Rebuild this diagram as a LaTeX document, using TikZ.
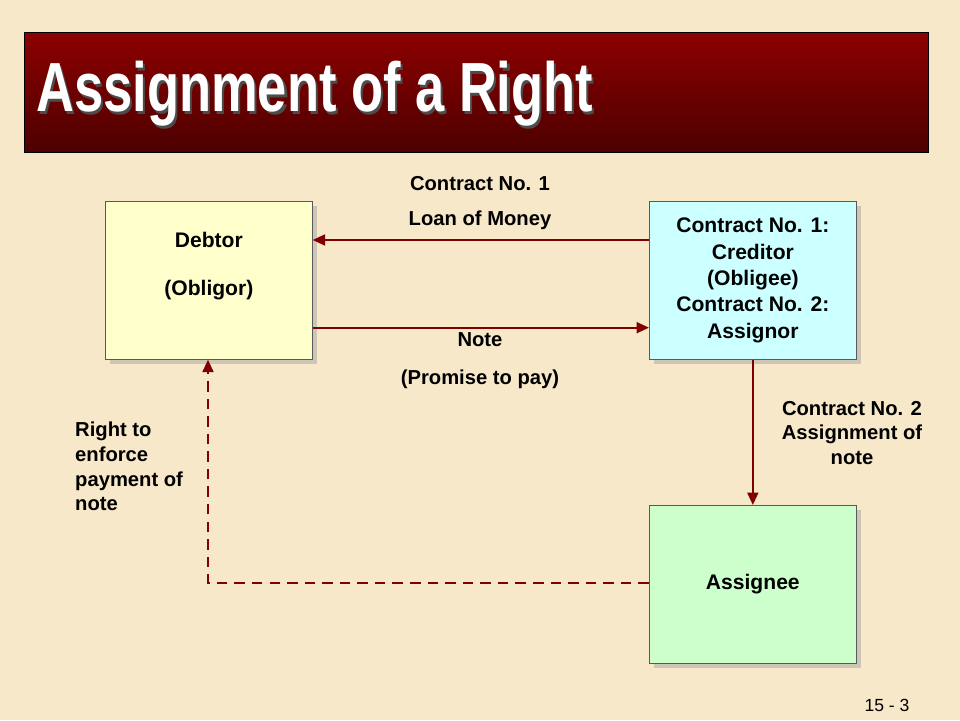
\documentclass[tikz,border=0pt]{standalone}
\usepackage{fontspec}
\setmainfont{Liberation Sans}
\usetikzlibrary{arrows.meta, positioning, shadows}
\definecolor{paper}{RGB}{246,232,200}
\definecolor{banner}{RGB}{128,0,0}
\definecolor{wine}{RGB}{128,0,0}
\definecolor{debtorfill}{RGB}{255,255,204}
\definecolor{credfill}{RGB}{204,255,255}
\definecolor{assfill}{RGB}{204,255,204}

\begin{document}
\begin{tikzpicture}[x=0.02cm, y=-0.02cm,
box/.style = {draw=gray!70!black, minimum width=4.14cm, minimum height=3.16cm,
              align=center, anchor=north west,
              drop shadow={shadow xshift=1mm, shadow yshift=-1mm, fill=gray!70}},
lbl/.style = {font=\fontsize{11.5}{14}\selectfont\bfseries, align=center},
link/.style = {draw=wine, very thick, -{Triangle[length=2.5mm, width=2.2mm]}},
     font = \fontsize{12}{15}\selectfont\bfseries
                        ]
\fill[paper] (0,0) rectangle (960,720);
\useasboundingbox (0,0) rectangle (960,720);
% title banner
\shade[top color=banner!90!red, bottom color=banner!60!black, draw=black]
    (24,32) rectangle (928,152);
\node (title) [anchor=west, text=white, xscale=0.83, yscale=1.1,
               font=\fontsize{36}{40}\selectfont\bfseries]
    at (31,95) {\tikz[baseline]{\node[inner sep=0pt, anchor=base, text=black!70] at (1.5pt,-1.5pt) {Assignment of a Right};
                \node[inner sep=0pt, anchor=base] at (0,0) {Assignment of a Right};}};
% boxes
\node (debtor) [box, fill=debtorfill] at (105,201) {Debtor\\[12pt](Obligor)\\[4pt]};
\node (creditor) [box, fill=credfill] at (649,201)
    {Contract No. 1:\\Creditor\\(Obligee)\\Contract No. 2:\\Assignor};
\node (assignee) [box, fill=assfill] at (649,505) {Assignee};
% connectors
\draw[link] ([yshift=-0.78cm] creditor.north west) -- ([yshift=-0.78cm] debtor.north east);
\draw[link] ([yshift=0.64cm] debtor.south east) -- ([yshift=0.64cm] creditor.south west);
\draw[link] (creditor.south) -- (assignee.north);
\coordinate (bend) at (208,583);
\draw[link, dash pattern=on 6pt off 4pt] (assignee.west |- bend) -- (bend) -- (bend |- debtor.south);
% labels
\node (c1) [lbl] at (480,184) {Contract No. 1};
\node (loan) [lbl] at (480,220) {Loan of Money};
\node (note) [lbl] at (480,340) {Note};
\node (promise) [lbl] at (480,379) {(Promise to pay)};
\node (c2) [lbl] at (852,433) {Contract No. 2\\Assignment of\\note};
\node (right) [lbl, align=left, anchor=north west] at (69,416)
    {Right to\\enforce\\payment of\\note};
\node (page) [font=\fontsize{10}{12}\selectfont] at (887,705) {15 - 3};
\end{tikzpicture}
\end{document}
